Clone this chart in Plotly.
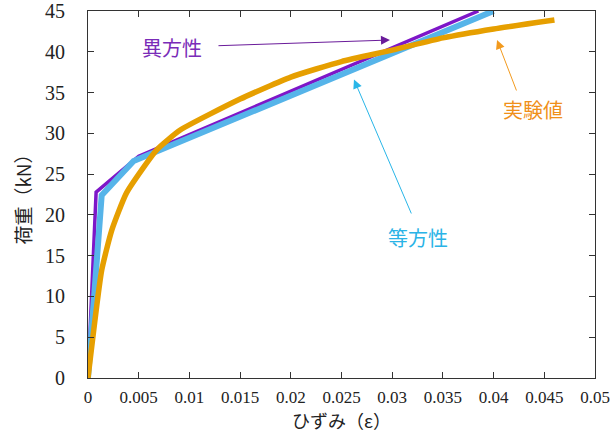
import plotly.graph_objects as go

# Data (strain, load kN)
aniso_x = [0.0, 0.0008, 0.005, 0.0385]
aniso_y = [0.0, 22.8, 27.2, 45.0]

iso_x = [0.0, 0.00135, 0.0045, 0.040]
iso_y = [0.0, 22.4, 26.6, 45.0]

exp_x = [0.0, 0.00135, 0.00234, 0.0038, 0.0068, 0.0091, 0.015, 0.020, 0.025, 0.030, 0.035, 0.040, 0.046]
exp_y = [0.0, 13.2, 18.1, 22.7, 28.0, 30.4, 34.2, 36.9, 38.8, 40.2, 41.7, 42.8, 43.9]

x_ticks = [0, 0.005, 0.01, 0.015, 0.02, 0.025, 0.03, 0.035, 0.04, 0.045, 0.05]
x_ticklabels = ["0", "0.005", "0.01", "0.015", "0.02", "0.025", "0.03", "0.035", "0.04", "0.045", "0.05"]
y_ticks = [0, 5, 10, 15, 20, 25, 30, 35, 40, 45]

PURPLE = "#7E16C8"
BLUE = "#56B4E9"
ORANGE = "#E69F00"

fig = go.Figure()
fig.add_trace(go.Scatter(x=aniso_x, y=aniso_y, mode="lines",
                         line=dict(color=PURPLE, width=3.5), name="異方性"))
fig.add_trace(go.Scatter(x=iso_x, y=iso_y, mode="lines",
                         line=dict(color=BLUE, width=6), name="等方性"))
fig.add_trace(go.Scatter(x=exp_x, y=exp_y, mode="lines",
                         line=dict(color=ORANGE, width=5.5, shape="spline", smoothing=0.5),
                         name="実験値"))

cjk = "Noto Sans CJK JP"
ann = []
# arrows
ann.append(dict(x=0.02978, y=41.44, ax=0.01272, ay=40.74, axref="x", ayref="y",
                xref="x", yref="y", text="", showarrow=True, arrowhead=2,
                arrowsize=1.8, arrowwidth=1, arrowcolor="#6A1B9A"))
ann.append(dict(x=0.02623, y=36.6, ax=0.03195, ay=19.99, axref="x", ayref="y",
                xref="x", yref="y", text="", showarrow=True, arrowhead=2,
                arrowsize=1.8, arrowwidth=1, arrowcolor="#29B6E8"))
ann.append(dict(x=0.04034, y=41.44, ax=0.04231, ay=35.07, axref="x", ayref="y",
                xref="x", yref="y", text="", showarrow=True, arrowhead=2,
                arrowsize=1.8, arrowwidth=1, arrowcolor="#F29A1E"))
# labels
ann.append(dict(x=0.00828, y=40.55, xref="x", yref="y", text="異方性", showarrow=False,
                font=dict(family=cjk, size=20, color="#7A2CB8")))
ann.append(dict(x=0.03254, y=17.17, xref="x", yref="y", text="等方性", showarrow=False,
                font=dict(family=cjk, size=20, color="#2AB3E6")))
ann.append(dict(x=0.04389, y=32.98, xref="x", yref="y", text="実験値", showarrow=False,
                font=dict(family=cjk, size=20, color="#F0901A")))

fig.update_layout(
    width=615, height=436,
    margin=dict(l=88, r=20, t=11, b=58),
    paper_bgcolor="white", plot_bgcolor="white",
    showlegend=False,
    annotations=ann,
)
fig.update_xaxes(
    range=[0, 0.05], tickvals=x_ticks, ticktext=x_ticklabels,
    ticks="inside", ticklen=6, tickcolor="#333", mirror="ticks",
    showline=True, linecolor="#333", linewidth=1, showgrid=False, zeroline=False,
    tickfont=dict(family="Liberation Serif", size=17, color="#222"),
    ticklabelstandoff=4, automargin=False,
    title=dict(text="ひずみ（ε）", font=dict(family=cjk, size=18, color="#222"), standoff=0),
)
fig.update_yaxes(
    range=[0, 45], tickvals=y_ticks,
    ticks="inside", ticklen=6, tickcolor="#333", mirror="ticks",
    showline=True, linecolor="#333", linewidth=1, showgrid=False, zeroline=False,
    tickfont=dict(family="Liberation Serif", size=20, color="#222"),
    ticklabelstandoff=18, automargin=False,
    title=dict(text="荷重（kN）", font=dict(family=cjk, size=19, color="#222"), standoff=8),
)

# remove the default 8px page margin so the figure sits at the window origin
fig.write_html("out.html",
               config={"displayModeBar": False},
               post_script="document.body.style.margin='0';document.body.style.overflow='hidden';")
